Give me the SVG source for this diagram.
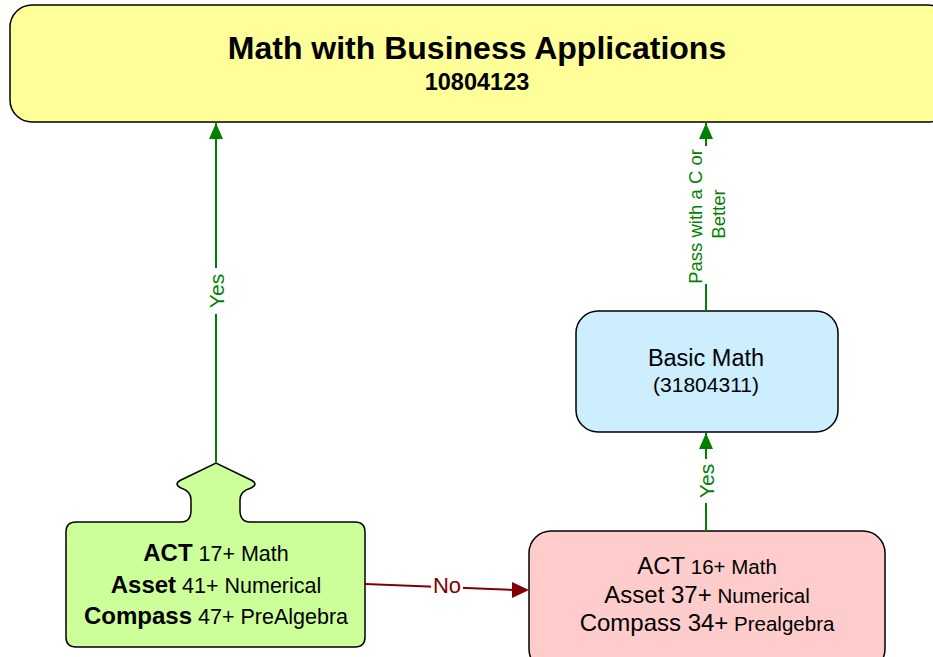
<svg xmlns="http://www.w3.org/2000/svg" width="933" height="657" viewBox="0 0 933 657">
<defs>
<marker id="ag" markerWidth="16" markerHeight="14" refX="16" refY="7" orient="auto" markerUnits="userSpaceOnUse" viewBox="0 0 16 14"><path d="M0,0 L16,7 L0,14 Z" fill="#008000"/></marker>
<style>
.t{font-family:"Liberation Sans",Arial,sans-serif;fill:#000;text-anchor:middle}
.b{font-weight:bold}
.box{stroke:#000;stroke-width:1.5}
.g{stroke:#008000;stroke-width:2;fill:none}
.gl{font-family:"Liberation Sans",Arial,sans-serif;fill:#008000;text-anchor:middle}
</style>
</defs>
<rect width="933" height="657" fill="#fff"/>
<g id="target">
<rect class="box" x="10" y="5" width="940" height="117" rx="22" fill="#ffff99"/>
<text class="t b" x="477" y="59" font-size="32">Math with Business Applications</text>
<text class="t b" x="477" y="90" font-size="23.5">10804123</text>
</g>
<g id="basic">
<rect class="box" x="576" y="311" width="262" height="121" rx="22" fill="#cceeff"/>
<text class="t" x="706" y="366" font-size="23.5">Basic Math</text>
<text class="t" x="706" y="392" font-size="21">(31804311)</text>
</g>
<g id="scoresHigh">
<path class="box" fill="#ccff99" d="M76 522 H181 Q191 522 191 510 V500 Q191 491 181 488 Q173 484 181 480 L216 463 L251 480 Q259 484 251 488 Q240 491 240 500 V510 Q240 522 250 522 H355 Q365 522 365 532 V637 Q365 647 355 647 H76 Q66 647 66 637 V532 Q66 522 76 522 Z"/>
<text class="t" x="216" y="561" font-size="21.5"><tspan class="b" font-size="24">ACT</tspan> 17+ Math</text>
<text class="t" x="216" y="593" font-size="21.5"><tspan class="b" font-size="24">Asset</tspan> 41+ Numerical</text>
<text class="t" x="216" y="624" font-size="21.5"><tspan class="b" font-size="24">Compass</tspan> 47+ PreAlgebra</text>
</g>
<g id="scoresLow">
<rect class="box" x="529" y="531" width="356" height="140" rx="22" fill="#ffcccc"/>
<text class="t" x="707" y="574" font-size="20.5"><tspan font-size="24">ACT</tspan> 16+ Math</text>
<text class="t" x="707" y="603" font-size="20.5"><tspan font-size="24">Asset 37+</tspan> Numerical</text>
<text class="t" x="707" y="631" font-size="20.5"><tspan font-size="24">Compass 34+</tspan> Prealgebra</text>
</g>
<g id="connectors">
<line class="g" x1="216" y1="463" x2="216" y2="123" marker-end="url(#ag)"/>
<rect x="205" y="268" width="22" height="46" fill="#fff"/>
<text class="gl" font-size="21" transform="translate(223.5,291) rotate(-90)">Yes</text>
<line class="g" x1="706" y1="311" x2="706" y2="123" marker-end="url(#ag)"/>
<rect x="682" y="146" width="46" height="138" fill="#fff"/>
<text class="gl" font-size="18.5" transform="translate(701.5,216.5) rotate(-90)">Pass with a C or</text>
<text class="gl" font-size="18.5" transform="translate(725,214) rotate(-90)">Better</text>
<line class="g" x1="706" y1="531" x2="706" y2="433" marker-end="url(#ag)"/>
<rect x="695" y="459" width="22" height="44" fill="#fff"/>
<text class="gl" font-size="21" transform="translate(713.5,481) rotate(-90)">Yes</text>
<line x1="365" y1="584" x2="514" y2="590" stroke="#800000" stroke-width="2"/>
<path d="M512,582 L529,590 L512,598 Z" fill="#800000"/>
<rect x="431" y="575" width="32" height="22" fill="#fff"/>
<text x="447" y="593" font-family="Liberation Sans,Arial,sans-serif" font-size="22" fill="#800000" text-anchor="middle">No</text>
</g>
</svg>
